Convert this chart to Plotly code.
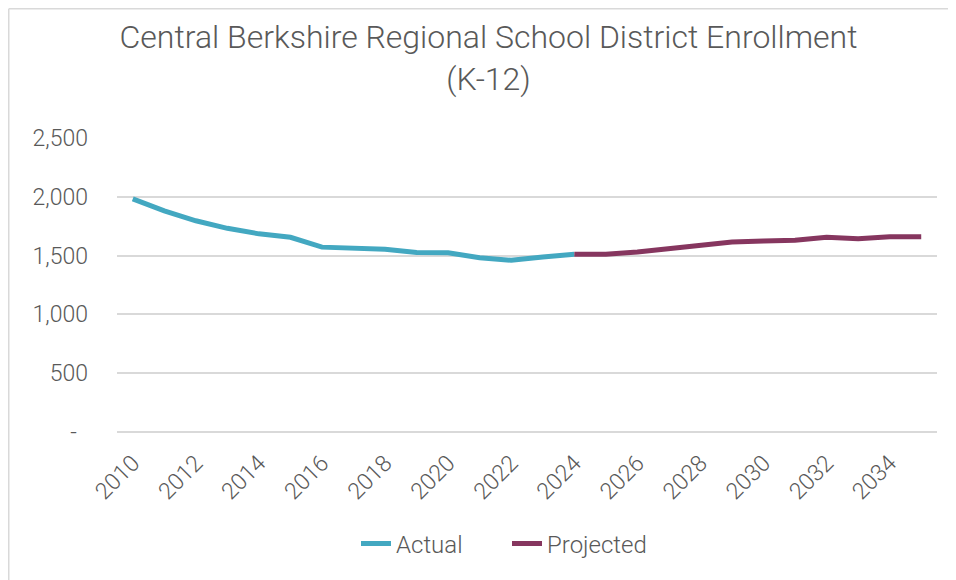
import plotly.graph_objects as go

actual_years = [str(y) for y in range(2010, 2025)]
actual_values = [1983, 1880, 1796, 1732, 1685, 1656, 1572, 1564, 1553, 1527, 1524, 1481, 1460, 1488, 1511]

projected_years = [str(y) for y in range(2024, 2036)]
projected_values = [1511, 1511, 1531, 1560, 1590, 1616, 1624, 1630, 1655, 1644, 1660, 1661]

all_years = [str(y) for y in range(2010, 2036)]
x_tick_labels = [str(y) for y in range(2010, 2036, 2)]
y_tick_values = [0, 500, 1000, 1500, 2000, 2500]
y_tick_labels = ["-\u00a0\u00a0", "500", "1,000", "1,500", "2,000", "2,500"]

title_text = "Central Berkshire Regional School District Enrollment<br>(K-12)"

TEXT = "#595959"
GRID = "#d9d9d9"
FONT = "Roboto"

W, H = 956, 580
ML, MR, MT, MB = 109, 27, 130, 156

fig = go.Figure()
fig.add_trace(go.Scatter(x=actual_years, y=actual_values, mode="lines", name="Actual",
                         line=dict(color="#43a8c1", width=5)))
fig.add_trace(go.Scatter(x=projected_years, y=projected_values, mode="lines", name="Projected",
                         line=dict(color="#86365f", width=5)))

fig.update_layout(
    width=W, height=H,
    margin=dict(l=ML, r=MR, t=MT, b=MB),
    paper_bgcolor="white", plot_bgcolor="white",
    font=dict(family=FONT, color=TEXT, size=23, weight=300),
    title=dict(text=title_text, x=480.5 / W, xanchor="center", xref="container",
               y=1 - 40 / H, yanchor="top", yref="container",
               font=dict(family=FONT, size=32, color=TEXT, weight=300)),
    showlegend=True,
    legend=dict(orientation="h", x=499 / W, xanchor="center", xref="container",
                y=1 - 536 / H, yanchor="middle", yref="container",
                font=dict(family=FONT, size=24, color=TEXT, weight=300),
                itemwidth=30, entrywidth=106, entrywidthmode="pixels"),
    xaxis=dict(type="category", categoryorder="array", categoryarray=all_years,
               range=[-0.5, len(all_years) - 0.5],
               tickvals=x_tick_labels, ticktext=x_tick_labels, tickangle=-45,
               showgrid=False, showline=False, zeroline=False, ticks="",
               ticklabelstandoff=12,
               tickfont=dict(family=FONT, size=23, color=TEXT, weight=300)),
    yaxis=dict(range=[0, 2500], tickvals=y_tick_values, ticktext=y_tick_labels,
               showgrid=True, gridcolor=GRID, gridwidth=1.5, zeroline=True,
               zerolinecolor=GRID, zerolinewidth=1.5, showline=False, ticks="",
               ticklabelstandoff=28,
               tickfont=dict(family=FONT, size=23, color=TEXT, weight=300)),
    shapes=[
        dict(type="line", xref="paper", yref="paper", xsizemode="pixel", ysizemode="pixel",
             xanchor=0, yanchor=1, x0=-ML + 0.75, x1=-ML + 0.75, y0=MT - 0.75, y1=-(H),
             line=dict(color=GRID, width=1.5)),
        dict(type="line", xref="paper", yref="paper", xsizemode="pixel", ysizemode="pixel",
             xanchor=0, yanchor=1, x0=-ML + 0.75, x1=W, y0=MT - 0.75, y1=MT - 0.75,
             line=dict(color=GRID, width=1.5)),
    ],
)

fig.write_html("out.html")
